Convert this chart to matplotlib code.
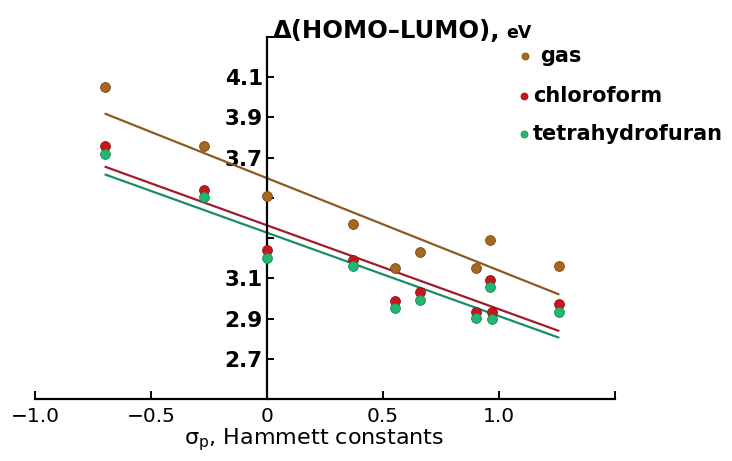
import numpy as np
import matplotlib
matplotlib.use('Agg')
import matplotlib.pyplot as plt

plt.rcParams['font.family'] = ['DejaVu Sans']

# Hammett sigma_p values and HOMO-LUMO gaps (eV)
sigma_gas = [-0.70, -0.27, 0.00, 0.37, 0.55, 0.66, 0.90, 0.96, 1.26]
gap_gas = [4.05, 3.76, 3.51, 3.37, 3.15, 3.23, 3.15, 3.29, 3.16]

sigma_sol = [-0.70, -0.27, 0.00, 0.37, 0.55, 0.66, 0.90, 0.96, 0.97, 1.26]
gap_chloroform = [3.76, 3.54, 3.24, 3.19, 2.985, 3.03, 2.935, 3.09, 2.935, 2.97]
gap_thf = [3.72, 3.505, 3.20, 3.16, 2.95, 2.99, 2.905, 3.055, 2.90, 2.935]

series = [
    ('gas', sigma_gas, gap_gas, '#a8671f', '#7a4a14', '#8a5a22'),
    ('chloroform', sigma_sol, gap_chloroform, '#c8161c', '#8e1116', '#9e1d2c'),
    ('tetrahydrofuran', sigma_sol, gap_thf, '#22b573', '#178a55', '#1a8c6c'),
]

W, H = 732, 461
fig = plt.figure(figsize=(W / 100, H / 100), dpi=100)
x0, x1, ytop, ybot = 35, 615, 37, 399
ax = fig.add_axes([x0 / W, 1 - ybot / H, (x1 - x0) / W, (ybot - ytop) / H])
ax.set_xlim(-1.0, 1.5)
ax.set_ylim(2.5, 4.3)

for name, xs, ys, fc, ec, lc in series:
    xs = np.array(xs)
    ys = np.array(ys)
    k, b = np.polyfit(xs, ys, 1)
    xx = np.array([xs.min(), xs.max()])
    ax.plot(xx, k * xx + b, color=lc, lw=1.6, zorder=2, solid_capstyle='butt')
    ax.scatter(xs, ys, s=50, color=fc, edgecolors=ec, linewidths=0.6, zorder=4)

# axes crossing at sigma = 0
for s in ['top', 'right']:
    ax.spines[s].set_visible(False)
ax.spines['left'].set_position(('data', 0))
ax.spines['left'].set_linewidth(1.6)
ax.spines['bottom'].set_linewidth(1.6)

ax.set_xticks([-1.0, -0.5, 0, 0.5, 1.0, 1.5])
ax.set_xticklabels(['\u22121.0', '\u22120.5', '0', '0.5', '1.0', ''])
yt = [2.7, 2.9, 3.1, 3.3, 3.5, 3.7, 3.9, 4.1, 4.3]
ax.set_yticks(yt)
ax.set_yticklabels(['2.7', '2.9', '3.1', '', '', '3.7', '3.9', '4.1', ''])
ax.tick_params(axis='x', direction='in', length=6, width=1.4, labelsize=14.5, pad=6)
ax.tick_params(axis='y', direction='in', length=5, width=1.4, labelsize=15.5, pad=3)
for t in ax.get_yticklabels():
    t.set_fontweight('bold')

fig.text(314 / W, 1 - 440 / H, '\u03c3$_\\mathregular{p}$, Hammett constants',
         ha='center', va='center', fontsize=16)

lbl = fig.text(273 / W, 1 - 38 / H, '\u0394(HOMO\u2013LUMO),', ha='left', va='baseline',
               fontsize=17.5, fontweight='bold')
fig.canvas.draw()
bb = lbl.get_window_extent()
fig.text((bb.x1 + 6) / W, 1 - 38 / H, 'eV', ha='left', va='baseline',
         fontsize=12.5, fontweight='bold')

# legend
rows = [(525, 540, 56), (524, 533, 96), (524, 533, 134)]
for (name, xs, ys, fc, ec, lc), (mx, tx, ty) in zip(series, rows):
    ax.scatter([(mx - x0) / (x1 - x0)], [(ybot - ty) / (ybot - ytop)], s=26, color=fc,
               edgecolors=ec, linewidths=0.5, transform=ax.transAxes, clip_on=False, zorder=5)
    fig.text(tx / W, 1 - ty / H, name, ha='left', va='center', fontsize=15, fontweight='bold')

fig.savefig('out.png', dpi=100)
